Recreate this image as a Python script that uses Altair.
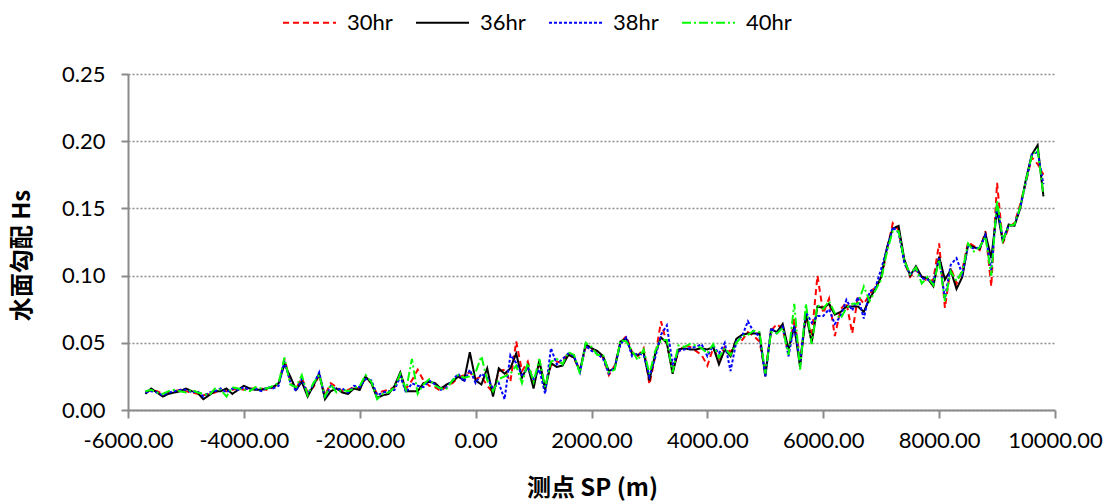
import altair as alt
import pandas as pd

# Survey points (m)
sp = list(range(-5700, 9900, 100))

s30 = [0.013,0.015,0.014,0.012,0.013,0.014,0.015,0.014,0.013,0.012,
       0.011,0.012,0.013,0.015,0.014,0.015,0.016,0.015,0.016,0.016,
       0.016,0.015,0.017,0.019,0.038,0.022,0.016,0.024,0.013,0.017,
       0.026,0.011,0.020,0.017,0.014,0.015,0.017,0.016,0.024,0.020,
       0.012,0.014,0.015,0.017,0.026,0.016,0.022,0.030,0.022,0.018,
       0.017,0.014,0.018,0.020,0.024,0.026,0.028,0.023,0.025,0.018,
       0.013,0.029,0.030,0.021,0.051,0.029,0.036,0.020,0.034,0.019,
       0.033,0.036,0.035,0.043,0.038,0.030,0.047,0.045,0.043,0.039,
       0.026,0.033,0.050,0.055,0.043,0.040,0.046,0.019,0.040,0.066,
       0.049,0.030,0.043,0.048,0.047,0.044,0.041,0.033,0.046,0.038,
       0.047,0.043,0.051,0.052,0.058,0.055,0.051,0.028,0.059,0.064,
       0.060,0.042,0.068,0.038,0.069,0.055,0.100,0.072,0.083,0.055,
       0.075,0.080,0.057,0.085,0.079,0.086,0.092,0.097,0.119,0.139,
       0.134,0.110,0.099,0.104,0.100,0.095,0.097,0.124,0.076,0.106,
       0.094,0.104,0.125,0.122,0.119,0.133,0.092,0.169,0.124,0.136,
       0.139,0.153,0.170,0.188,0.183,0.175]

s36 = [0.012,0.016,0.013,0.010,0.012,0.013,0.014,0.016,0.014,0.013,
       0.008,0.011,0.014,0.014,0.016,0.012,0.015,0.018,0.016,0.015,
       0.015,0.016,0.017,0.020,0.034,0.025,0.015,0.021,0.010,0.018,
       0.027,0.008,0.014,0.016,0.013,0.012,0.016,0.015,0.025,0.020,
       0.009,0.011,0.012,0.018,0.028,0.014,0.014,0.014,0.020,0.021,
       0.020,0.016,0.019,0.021,0.025,0.022,0.043,0.022,0.019,0.031,
       0.010,0.031,0.027,0.031,0.042,0.024,0.033,0.016,0.037,0.015,
       0.035,0.032,0.033,0.041,0.039,0.029,0.049,0.046,0.044,0.040,
       0.029,0.031,0.051,0.053,0.042,0.041,0.043,0.022,0.042,0.054,
       0.050,0.027,0.045,0.046,0.045,0.045,0.046,0.045,0.047,0.034,
       0.045,0.040,0.053,0.056,0.057,0.057,0.057,0.025,0.060,0.058,
       0.064,0.045,0.062,0.032,0.072,0.050,0.077,0.076,0.079,0.071,
       0.073,0.077,0.077,0.077,0.073,0.083,0.090,0.099,0.121,0.135,
       0.137,0.112,0.100,0.107,0.099,0.098,0.092,0.114,0.097,0.104,
       0.090,0.099,0.123,0.121,0.120,0.131,0.113,0.149,0.125,0.138,
       0.137,0.150,0.172,0.190,0.197,0.159]

s38 = [0.013,0.014,0.013,0.011,0.013,0.014,0.015,0.015,0.013,0.014,
       0.010,0.013,0.014,0.016,0.013,0.016,0.015,0.017,0.015,0.016,
       0.014,0.017,0.016,0.018,0.036,0.021,0.014,0.023,0.012,0.019,
       0.028,0.009,0.018,0.015,0.016,0.013,0.018,0.017,0.023,0.022,
       0.011,0.013,0.014,0.015,0.025,0.013,0.020,0.018,0.017,0.022,
       0.019,0.015,0.017,0.022,0.027,0.021,0.030,0.020,0.027,0.024,
       0.016,0.020,0.008,0.041,0.035,0.026,0.031,0.023,0.030,0.012,
       0.046,0.034,0.038,0.042,0.040,0.028,0.048,0.044,0.042,0.038,
       0.027,0.032,0.049,0.054,0.040,0.042,0.041,0.025,0.039,0.056,
       0.063,0.034,0.044,0.045,0.046,0.047,0.049,0.040,0.048,0.042,
       0.050,0.029,0.051,0.055,0.066,0.058,0.055,0.025,0.061,0.057,
       0.062,0.040,0.063,0.036,0.073,0.065,0.070,0.070,0.075,0.064,
       0.070,0.082,0.074,0.084,0.068,0.088,0.091,0.105,0.120,0.136,
       0.132,0.109,0.101,0.105,0.098,0.097,0.095,0.113,0.083,0.108,
       0.113,0.101,0.122,0.120,0.121,0.130,0.104,0.153,0.127,0.137,
       0.138,0.151,0.170,0.190,0.192,0.168]

s40 = [0.014,0.015,0.013,0.012,0.014,0.015,0.014,0.013,0.015,0.013,
       0.012,0.011,0.016,0.015,0.010,0.017,0.016,0.015,0.014,0.017,
       0.016,0.016,0.018,0.020,0.039,0.019,0.017,0.026,0.011,0.020,
       0.026,0.010,0.019,0.013,0.015,0.014,0.016,0.018,0.026,0.021,
       0.008,0.012,0.013,0.017,0.027,0.015,0.038,0.012,0.019,0.023,
       0.018,0.016,0.016,0.022,0.026,0.024,0.025,0.028,0.040,0.022,
       0.014,0.023,0.025,0.027,0.033,0.020,0.035,0.021,0.038,0.017,
       0.036,0.038,0.034,0.043,0.041,0.027,0.050,0.047,0.041,0.041,
       0.028,0.030,0.052,0.051,0.044,0.037,0.045,0.027,0.044,0.052,
       0.052,0.028,0.048,0.047,0.049,0.048,0.046,0.042,0.049,0.039,
       0.046,0.041,0.050,0.055,0.056,0.059,0.058,0.027,0.058,0.057,
       0.061,0.041,0.079,0.030,0.079,0.049,0.078,0.075,0.081,0.072,
       0.068,0.076,0.079,0.079,0.092,0.081,0.089,0.097,0.118,0.133,
       0.133,0.111,0.101,0.106,0.094,0.099,0.093,0.112,0.081,0.103,
       0.096,0.103,0.124,0.118,0.121,0.129,0.100,0.156,0.126,0.137,
       0.138,0.151,0.171,0.189,0.194,0.160]

series_names = ["30hr", "36hr", "38hr", "40hr"]
series_colors = ["#FF0000", "#000000", "#0000FF", "#00FF00"]
series_dash = [[6, 4], [1, 0], [3, 2], [9, 3, 2, 3]]
x_ticks = [-6000, -4000, -2000, 0, 2000, 4000, 6000, 8000, 10000]
y_ticks = [0.0, 0.05, 0.10, 0.15, 0.20, 0.25]

rows = []
for name, vals in zip(series_names, [s30, s36, s38, s40]):
    for x, v in zip(sp, vals):
        rows.append({"sp": x, "val": v, "series": name})
df = pd.DataFrame(rows)

LAB_FONT = "Lato"
CJK_FONT = "Noto Sans CJK SC"
hyphen_fmt = "datum.value < 0 ? '-' + format(-datum.value, '.2f') : format(datum.value, '.2f')"

chart = alt.Chart(df).mark_line(strokeWidth=2).encode(
    x=alt.X("sp:Q",
            scale=alt.Scale(domain=[-6000, 10000], nice=False, zero=False),
            axis=alt.Axis(values=x_ticks, labelExpr=hyphen_fmt, title="测点 SP (m)",
                          grid=False, domainColor="#8a8a8a", domainWidth=2,
                          tickColor="#8a8a8a", tickWidth=2, tickSize=8,
                          labelFont=LAB_FONT, labelFontSize=22, labelColor="#000",
                          labelPadding=12, labelFlush=False, labelOverlap=False,
                          titleFont=CJK_FONT, titleFontSize=24, titleFontWeight="bold",
                          titleColor="#000", titleX=464, titleY=78,
                          titleBaseline="middle", titleAlign="center")),
    y=alt.Y("val:Q",
            scale=alt.Scale(domain=[0, 0.25], nice=False),
            axis=alt.Axis(values=y_ticks, format=".2f", title="水面勾配 Hs",
                          grid=True, gridDash=[2, 2], gridColor="#8c8c8c", gridWidth=1.5,
                          domainColor="#8a8a8a", domainWidth=2,
                          tickColor="#8a8a8a", tickWidth=2, tickSize=7,
                          labelFont=LAB_FONT, labelFontSize=22, labelColor="#000",
                          labelPadding=16, labelFlush=False,
                          titleFont=CJK_FONT, titleFontSize=24, titleFontWeight="bold",
                          titleColor="#000", titleX=-106, titleY=181,
                          titleBaseline="middle", titleAlign="center", titleAngle=270)),
    color=alt.Color("series:N",
                    scale=alt.Scale(domain=series_names, range=series_colors),
                    legend=alt.Legend(title=None)),
    strokeDash=alt.StrokeDash("series:N",
                              scale=alt.Scale(domain=series_names, range=series_dash),
                              legend=alt.Legend(title=None)),
).properties(
    width=927, height=336,
    autosize=alt.AutoSizeParams(type="none"),
    padding={"left": 128, "top": 74, "right": 58, "bottom": 93},
).configure_view(stroke=None).configure_legend(
    orient="none", legendX=154, legendY=-79, direction="horizontal",
    symbolType="stroke", symbolSize=2809, symbolStrokeWidth=2,
    labelFont=LAB_FONT, labelFontSize=22, labelColor="#000",
    labelOffset=10, columnPadding=19, symbolOffset=0,
)

chart.save("out.html", embed_options={"renderer": "svg", "actions": False})
